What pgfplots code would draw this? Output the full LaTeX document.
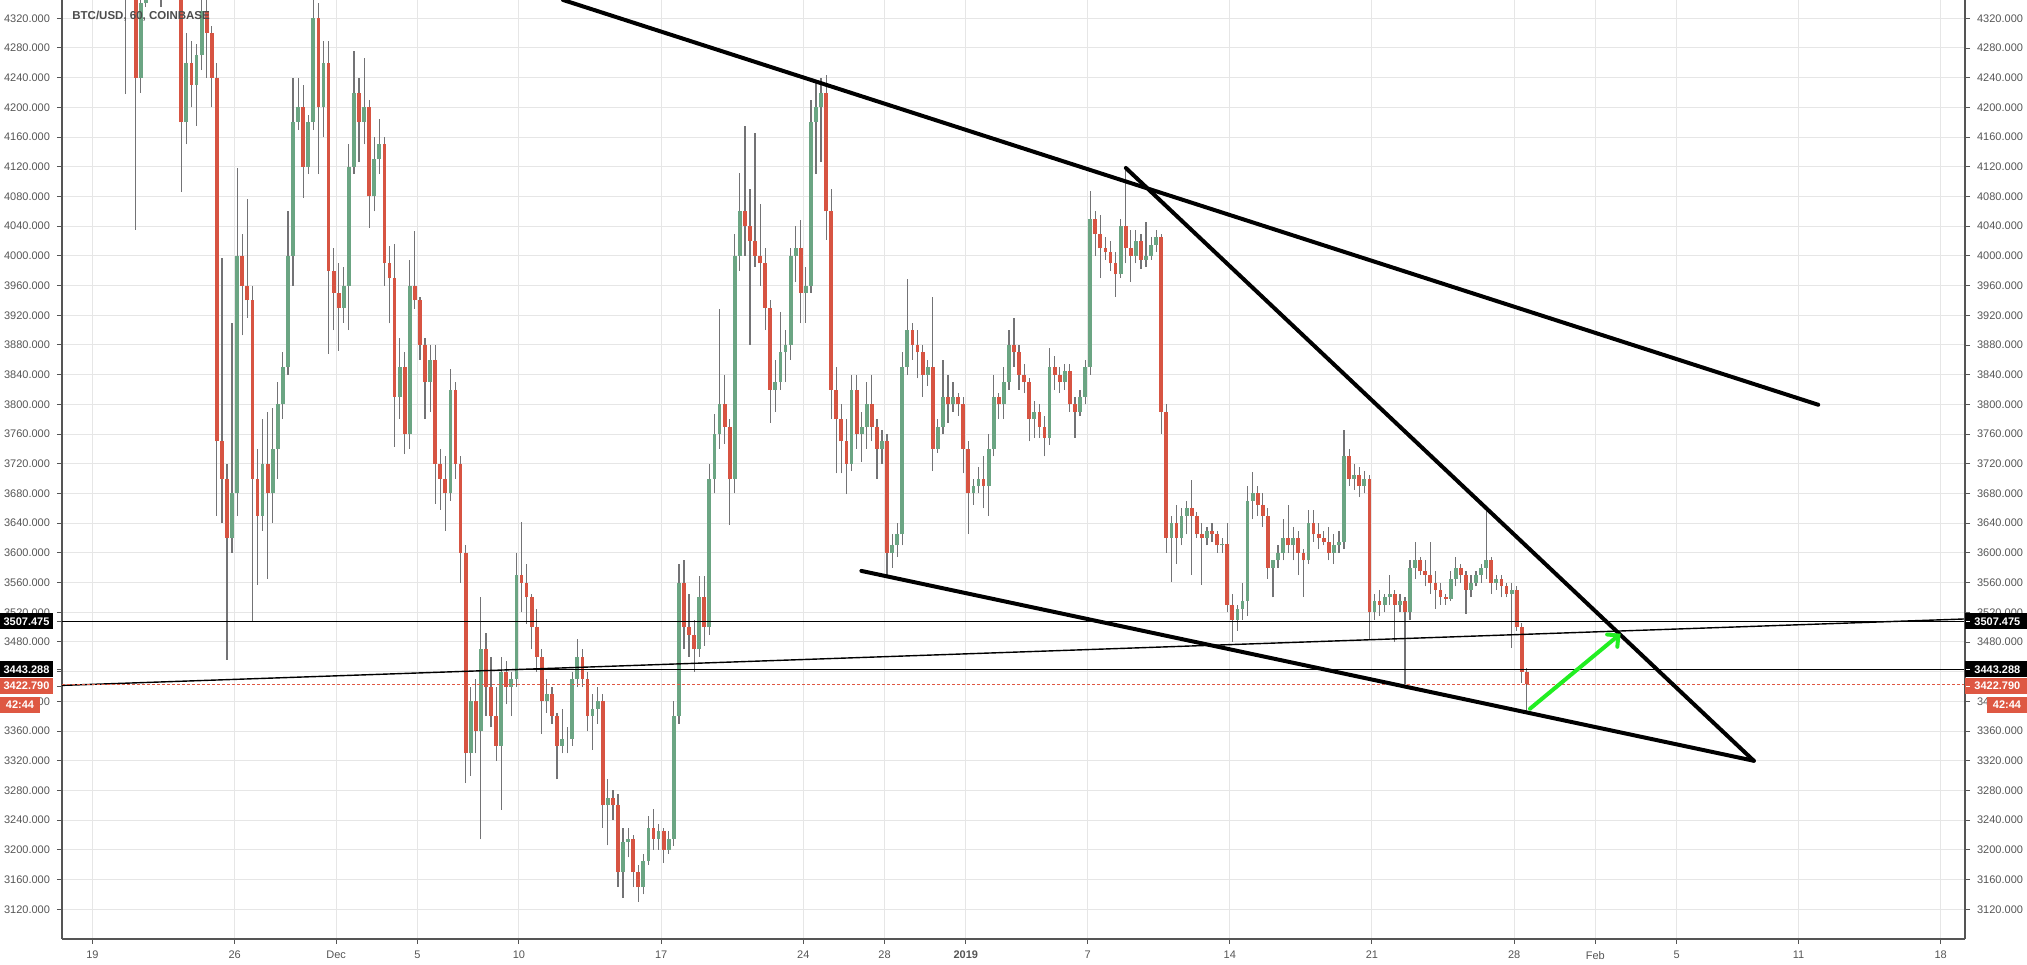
\documentclass[border=0pt]{standalone}
\usepackage{pgfplots}
\pgfplotsset{compat=1.18}
\usepackage{pgfplotstable}
\usepackage{fontspec}
\setmainfont{Liberation Sans}
\usetikzlibrary{arrows.meta}
\definecolor{upc}{HTML}{6BA583}
\definecolor{dnc}{HTML}{D75442}
\definecolor{wickc}{HTML}{737375}
\definecolor{gridc}{HTML}{E6E6E6}
\definecolor{axc}{HTML}{555555}
\definecolor{txtc}{HTML}{555555}
\definecolor{redlbl}{HTML}{DE5843}
\definecolor{arrowgreen}{HTML}{22EE22}

\pgfplotstableread{
d o h l c
1.50 4400 4450 4218 4380
1.75 4380 4450 4350 4420
2.00 4420 4450 4035 4240
2.25 4240 4350 4220 4340
2.50 4340 4420 4335 4400
2.75 4400 4480 4380 4450
3.00 4450 4520 4400 4480
3.25 4480 4550 4335 4500
3.50 4500 4560 4440 4460
3.75 4460 4500 4380 4420
4.00 4420 4450 4360 4360
4.25 4360 4380 4086 4180
4.50 4180 4300 4150 4260
4.75 4260 4290 4200 4230
5.00 4230 4285 4175 4270
5.25 4270 4360 4250 4330
5.50 4330 4370 4240 4300
5.75 4300 4310 4200 4240
6.00 4240 4260 3650 3750
6.25 3750 3997 3640 3700
6.50 3700 3720 3456 3620
6.75 3620 3909 3600 3680
7.00 3680 4119 3650 4000
7.25 4000 4030 3893 3960
7.50 3960 4076 3917 3940
7.75 3940 3960 3508 3700
8.00 3700 3740 3557 3650
8.25 3650 3780 3630 3720
8.50 3720 3790 3565 3680
8.75 3680 3795 3640 3740
9.00 3740 3830 3700 3800
9.25 3800 3870 3780 3850
9.50 3850 4060 3840 4000
9.75 4000 4240 3960 4180
10.00 4180 4240 4170 4200
10.25 4200 4230 4078 4120
10.50 4120 4190 4110 4180
10.75 4180 4360 4170 4320
11.00 4320 4340 4110 4200
11.25 4200 4290 4160 4260
11.50 4260 4290 3868 3980
11.75 3980 4010 3900 3950
12.00 3950 3990 3872 3930
12.25 3930 3985 3910 3960
12.50 3960 4150 3900 4120
12.75 4120 4276 4110 4220
13.00 4220 4240 4127 4180
13.25 4180 4266 4150 4200
13.50 4200 4210 4038 4080
13.75 4080 4160 4060 4130
14.00 4130 4184 4110 4150
14.25 4150 4160 3960 3990
14.50 3990 4013 3909 3970
14.75 3970 4016 3743 3810
15.00 3810 3890 3780 3850
15.25 3850 3870 3733 3760
15.50 3760 3994 3740 3960
15.75 3960 4034 3929 3940
16.00 3940 3945 3860 3880
16.25 3880 3890 3780 3830
16.50 3830 3880 3790 3860
16.75 3860 3880 3666 3720
17.00 3720 3740 3658 3700
17.25 3700 3730 3630 3680
17.50 3680 3848 3670 3820
17.75 3820 3830 3700 3720
18.00 3720 3730 3560 3600
18.25 3600 3610 3290 3330
18.50 3330 3420 3300 3400
18.75 3400 3430 3330 3360
19.00 3360 3540 3214 3470
19.25 3470 3492 3380 3420
19.50 3420 3460 3365 3380
19.75 3380 3420 3320 3340
20.00 3340 3460 3254 3440
20.25 3440 3455 3396 3420
20.50 3420 3440 3380 3430
20.75 3430 3600 3420 3570
21.00 3570 3642 3520 3560
21.25 3560 3585 3504 3540
21.50 3540 3545 3470 3500
21.75 3500 3525 3440 3460
22.00 3460 3470 3356 3400
22.25 3400 3430 3385 3410
22.50 3410 3420 3370 3380
22.75 3380 3385 3295 3340
23.00 3340 3390 3330 3350
23.25 3350 3365 3330 3350
23.50 3350 3440 3340 3430
23.75 3430 3484 3420 3460
24.00 3460 3470 3420 3430
24.25 3430 3440 3360 3380
24.50 3380 3410 3335 3390
24.75 3390 3420 3370 3400
25.00 3400 3410 3230 3260
25.25 3260 3295 3206 3270
25.50 3270 3280 3240 3260
25.75 3260 3275 3150 3170
26.00 3170 3230 3135 3210
26.25 3210 3230 3190 3215
26.50 3215 3220 3150 3170
26.75 3170 3180 3130 3150
27.00 3150 3195 3140 3185
27.25 3185 3246 3180 3230
27.50 3230 3255 3200 3215
27.75 3215 3235 3200 3225
28.00 3225 3230 3182 3200
28.25 3200 3225 3195 3215
28.50 3215 3400 3205 3380
28.75 3380 3585 3370 3560
29.00 3560 3590 3470 3500
29.25 3500 3545 3460 3490
29.50 3490 3510 3440 3470
29.75 3470 3569 3460 3540
30.00 3540 3569 3475 3500
30.25 3500 3720 3490 3700
30.50 3700 3787 3680 3760
30.75 3760 3929 3740 3800
31.00 3800 3840 3747 3770
31.25 3770 3780 3638 3700
31.50 3700 4030 3680 4000
31.75 4000 4111 3980 4060
32.00 4060 4175 4000 4040
32.25 4040 4090 3880 4020
32.50 4020 4165 3985 4000
32.75 4000 4070 3960 3990
33.00 3990 4010 3900 3930
33.25 3930 3940 3775 3820
33.50 3820 3860 3790 3830
33.75 3830 3925 3820 3870
34.00 3870 3900 3830 3880
34.25 3880 4010 3860 4000
34.50 4000 4040 3965 4010
34.75 4010 4048 3909 3950
35.00 3950 3985 3910 3960
35.25 3960 4210 3950 4180
35.50 4180 4236 4110 4200
35.75 4200 4240 4127 4220
36.00 4220 4244 4022 4060
36.25 4060 4090 3780 3820
36.50 3820 3850 3707 3780
36.75 3780 3800 3707 3750
37.00 3750 3780 3679 3720
37.25 3720 3840 3710 3820
37.50 3820 3840 3740 3760
37.75 3760 3790 3723 3770
38.00 3770 3830 3740 3800
38.25 3800 3840 3750 3770
38.50 3770 3780 3700 3740
38.75 3740 3765 3720 3750
39.00 3750 3760 3569 3600
39.25 3600 3625 3580 3610
39.50 3610 3640 3595 3625
39.75 3625 3870 3610 3850
40.00 3850 3969 3840 3900
40.25 3900 3910 3860 3880
40.50 3880 3900 3835 3870
40.75 3870 3880 3810 3840
41.00 3840 3860 3825 3850
41.25 3850 3945 3710 3740
41.50 3740 3780 3735 3770
41.75 3770 3860 3760 3810
42.00 3810 3840 3775 3800
42.25 3800 3830 3790 3810
42.50 3810 3815 3785 3800
42.75 3800 3810 3707 3740
43.00 3740 3750 3626 3680
43.25 3680 3700 3665 3690
43.50 3690 3715 3680 3700
43.75 3700 3730 3660 3690
44.00 3690 3760 3650 3740
44.25 3740 3840 3730 3810
44.50 3810 3815 3780 3800
44.75 3800 3850 3780 3830
45.00 3830 3900 3820 3880
45.25 3880 3917 3850 3870
45.50 3870 3880 3820 3840
45.75 3840 3855 3815 3830
46.00 3830 3835 3750 3780
46.25 3780 3805 3755 3790
46.50 3790 3800 3755 3770
46.75 3770 3785 3730 3755
47.00 3755 3876 3745 3850
47.25 3850 3865 3820 3840
47.50 3840 3850 3815 3830
47.75 3830 3855 3820 3845
48.00 3845 3855 3790 3800
48.25 3800 3810 3755 3790
48.50 3790 3820 3785 3810
48.75 3810 3860 3800 3850
49.00 3850 4088 3840 4050
49.25 4050 4060 4000 4030
49.50 4030 4055 3970 4010
49.75 4010 4025 3995 4005
50.00 4005 4020 3980 3990
50.25 3990 4005 3945 3975
50.50 3975 4050 3970 4040
50.75 4040 4119 3990 4010
51.00 4010 4035 3965 4000
51.25 4000 4035 3990 4020
51.50 4020 4030 3982 3995
51.75 3995 4045 3985 4000
52.00 4000 4025 3995 4015
52.25 4015 4035 4005 4025
52.50 4025 4030 3760 3790
52.75 3790 3800 3600 3620
53.00 3620 3650 3561 3640
53.25 3640 3665 3585 3620
53.50 3620 3660 3610 3650
53.75 3650 3670 3625 3660
54.00 3660 3698 3570 3650
54.25 3650 3655 3620 3625
54.50 3625 3640 3557 3620
54.75 3620 3635 3610 3630
55.00 3630 3640 3615 3625
55.25 3625 3630 3600 3610
55.50 3610 3620 3600 3612
55.75 3612 3640 3520 3530
56.00 3530 3545 3480 3510
56.25 3510 3530 3495 3525
56.50 3525 3560 3510 3535
56.75 3535 3690 3515 3670
57.00 3670 3709 3645 3680
57.25 3680 3690 3650 3665
57.50 3665 3680 3635 3650
57.75 3650 3660 3565 3580
58.00 3580 3590 3540 3590
58.25 3590 3610 3580 3600
58.50 3600 3645 3590 3620
58.75 3620 3665 3600 3610
59.00 3610 3635 3590 3620
59.25 3620 3630 3570 3600
59.50 3600 3605 3541 3590
59.75 3590 3658 3585 3640
60.00 3640 3658 3615 3625
60.25 3625 3640 3605 3620
60.50 3620 3630 3610 3615
60.75 3615 3635 3590 3600
61.00 3600 3625 3585 3610
61.25 3610 3630 3600 3615
61.50 3615 3765 3605 3730
61.75 3730 3740 3690 3700
62.00 3700 3720 3685 3705
62.25 3705 3715 3675 3690
62.50 3690 3710 3680 3700
62.75 3700 3705 3484 3520
63.00 3520 3545 3510 3535
63.25 3535 3550 3515 3530
63.50 3530 3545 3520 3540
63.75 3540 3570 3530 3545
64.00 3545 3550 3480 3530
64.25 3530 3545 3520 3535
64.50 3535 3540 3424 3520
64.75 3520 3590 3510 3580
65.00 3580 3615 3565 3590
65.25 3590 3595 3570 3575
65.50 3575 3590 3555 3570
65.75 3570 3615 3545 3560
66.00 3560 3575 3525 3550
66.25 3550 3560 3530 3540
66.50 3540 3545 3530 3538
66.75 3538 3575 3535 3565
67.00 3565 3595 3555 3580
67.25 3580 3585 3560 3570
67.50 3570 3575 3518 3550
67.75 3550 3570 3540 3560
68.00 3560 3575 3555 3570
68.25 3570 3585 3560 3580
68.50 3580 3658 3565 3590
68.75 3590 3595 3545 3560
69.00 3560 3570 3550 3565
69.25 3565 3570 3540 3555
69.50 3555 3560 3540 3545
69.75 3545 3560 3472 3550
70.00 3550 3555 3495 3500
70.25 3500 3505 3425 3440
70.50 3440 3445 3387 3422.79
}\candles

\pgfplotsset{
  common/.style={
    scale only axis, width=951.5pt, height=469.5pt,
    at={(0pt,0pt)}, anchor=south west,
    xmin=-1.5, xmax=92.2, ymin=3080, ymax=4344.66,
    ytick={3120,3160,...,4320},
    xtick={0,7,12,16,21,28,35,39,43,49,56,63,70,74,78,84,91},
    scaled y ticks=false,
    tick align=outside, major tick length=2.5pt,
    tick style={axc, line width=0.5pt},
    axis line style={axc, line width=0.6pt},
    ticklabel style={font=\fontsize{5.5}{6.6}\selectfont, text=txtc},
    yticklabel style={/pgf/number format/fixed, /pgf/number format/fixed zerofill,
      /pgf/number format/precision=3, /pgf/number format/1000 sep={},
      /pgf/number format/assume math mode=true},
    clip mode=individual,
  }
}

\begin{document}
\begin{tikzpicture}
\begin{axis}[common,
  axis x line*=bottom, axis y line*=left,
  grid=major, major grid style={gridc, line width=0.5pt},
  xticklabels={19,26,Dec,5,10,17,24,28,\textbf{2019},7,14,21,28,Feb,5,11,18},
]
% wicks
\addplot[draw=none, mark=none, forget plot,
  error bars/.cd, y dir=plus, y explicit, error mark=none,
  error bar style={draw=wickc, line width=0.6pt}]
  table[x expr=\thisrow{d}+0.125, y=l, y error expr=\thisrow{h}-\thisrow{l}] {\candles};
% up bodies
\addplot[draw=none, mark=none, forget plot,
  error bars/.cd, y dir=plus, y explicit, error mark=none,
  error bar style={draw=upc, line width=1.9pt}]
  table[x expr=\thisrow{d}+0.125, y expr={\thisrow{c}<\thisrow{o} ? 0 : \thisrow{o}},
        y error expr={abs(\thisrow{c}-\thisrow{o})}] {\candles};
% down bodies
\addplot[draw=none, mark=none, forget plot,
  error bars/.cd, y dir=plus, y explicit, error mark=none,
  error bar style={draw=dnc, line width=1.9pt}]
  table[x expr=\thisrow{d}+0.125, y expr={\thisrow{c}<\thisrow{o} ? \thisrow{c} : 0},
        y error expr={abs(\thisrow{c}-\thisrow{o})}] {\candles};
% horizontal and thin lines
\addplot[black, line width=0.5pt, forget plot] coordinates {(-1.5,3507.475) (92.2,3507.475)};
\addplot[black, line width=0.5pt, forget plot] coordinates {(21.3,3443.288) (92.2,3443.288)};
\addplot[black, line width=0.7pt, forget plot] coordinates {(-1.5,3421.5) (92.2,3511)};
\addplot[redlbl, line width=0.5pt, dash pattern=on 1.5pt off 1pt, forget plot] coordinates {(-1.5,3422.79) (92.2,3422.79)};
% trend lines
\addplot[black, line width=2pt, line cap=round, forget plot] coordinates {(23.17,4344.66) (84.97,3799.5)};
\addplot[black, line width=2pt, line cap=round, forget plot] coordinates {(50.88,4118.4) (81.8,3320)};
\addplot[black, line width=2pt, line cap=round, forget plot] coordinates {(37.86,3575.7) (81.8,3320)};
% green arrow
\addplot[arrowgreen, line width=2pt, line cap=round, forget plot,
  -{Straight Barb[length=4pt,width=8pt,line cap=round]}] coordinates {(70.78,3390.1) (75.24,3491.1)};
\end{axis}
\begin{axis}[common,
  axis x line=none, axis y line*=right,
]
\end{axis}
% title
\node[anchor=west, text=black!70, font=\fontsize{5.75}{6.9}\selectfont\bfseries, inner sep=0pt] at (5pt,461.15pt) {BTC/USD, 60, COINBASE};
% left price labels
\fill[black] (-31pt,154.85pt) rectangle (-4.5pt,162.85pt);
\node[text=white, font=\fontsize{5.5}{6.6}\selectfont\bfseries, inner sep=0pt] at (-17.75pt,158.85pt) {3507.475};
\fill[black] (-31pt,130.85pt) rectangle (-4.5pt,138.85pt);
\node[text=white, font=\fontsize{5.5}{6.6}\selectfont\bfseries, inner sep=0pt] at (-17.75pt,134.85pt) {3443.288};
\fill[redlbl] (-31pt,122.5pt) rectangle (-4.5pt,130.5pt);
\node[text=white, font=\fontsize{5.5}{6.6}\selectfont\bfseries, inner sep=0pt] at (-17.75pt,126.5pt) {3422.790};
\fill[redlbl] (-31pt,113.25pt) rectangle (-11pt,121.25pt);
\node[text=white, font=\fontsize{5.5}{6.6}\selectfont\bfseries, inner sep=0pt] at (-21pt,117.25pt) {42:44};
\draw[axc, line width=0.5pt] (-2.5pt,158.85pt) -- (0pt,158.85pt);
\draw[axc, line width=0.5pt] (-2.5pt,134.85pt) -- (0pt,134.85pt);
\draw[axc, line width=0.5pt] (-2.5pt,126.5pt) -- (0pt,126.5pt);
% right price labels
\fill[black] (951.5pt,154.85pt) rectangle (982.5pt,162.85pt);
\node[anchor=west, text=white, font=\fontsize{5.5}{6.6}\selectfont\bfseries, inner sep=0pt] at (956pt,158.85pt) {3507.475};
\fill[black] (951.5pt,130.85pt) rectangle (982.5pt,138.85pt);
\node[anchor=west, text=white, font=\fontsize{5.5}{6.6}\selectfont\bfseries, inner sep=0pt] at (956pt,134.85pt) {3443.288};
\fill[redlbl] (951.5pt,122.5pt) rectangle (982.5pt,130.5pt);
\node[anchor=west, text=white, font=\fontsize{5.5}{6.6}\selectfont\bfseries, inner sep=0pt] at (956pt,126.5pt) {3422.790};
\fill[redlbl] (962.5pt,113.25pt) rectangle (982.5pt,121.25pt);
\node[text=white, font=\fontsize{5.5}{6.6}\selectfont\bfseries, inner sep=0pt] at (972.5pt,117.25pt) {42:44};
\draw[white, line width=0.5pt] (952pt,158.85pt) -- (954pt,158.85pt);
\draw[white, line width=0.5pt] (952pt,134.85pt) -- (954pt,134.85pt);
\draw[white, line width=0.5pt] (952pt,126.5pt) -- (954pt,126.5pt);
\pgfresetboundingbox
\path[use as bounding box] (-31pt,-12.5pt) rectangle (982.5pt,469.5pt);
\end{tikzpicture}
\end{document}
